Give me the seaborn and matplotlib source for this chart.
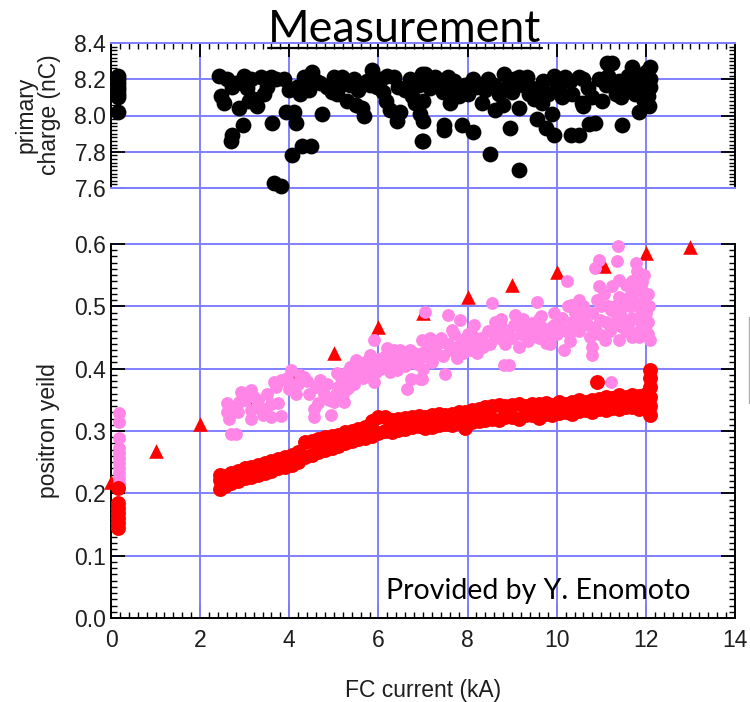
import numpy as np
import matplotlib
matplotlib.use("Agg")
import matplotlib.pyplot as plt
import seaborn as sns
from matplotlib.ticker import FixedLocator, FormatStrFormatter
from matplotlib.lines import Line2D

sns.set_style("white")
plt.rcParams["font.family"] = ["Liberation Sans", "DejaVu Sans"]

# ---------------- data ----------------
x_ticks = [0, 2, 4, 6, 8, 10, 12, 14]
yield_ticks = [0.0, 0.1, 0.2, 0.3, 0.4, 0.5, 0.6]
charge_ticks = [7.6, 7.8, 8.0, 8.2, 8.4]

# primary charge (nC) vs FC current (kA)
charge_x = [0.15, 0.15, 0.15, 0.15, 0.15, 0.15, 0.15, 0.15,
            2.43, 2.46, 2.54, 2.72, 2.87, 2.99, 2.97, 2.72, 2.69, 3.21, 3.28, 3.36,
            3.43, 3.58, 3.62, 3.66, 3.81, 3.88, 3.92, 4.10, 4.14, 4.07, 4.29, 4.48,
            4.18, 4.33, 4.51, 4.44, 4.74, 4.70, 5.00, 5.07, 5.19, 5.30, 5.37, 5.63,
            5.67, 5.86, 5.75, 5.97, 6.19, 6.34, 6.16, 6.27, 6.42, 6.49, 6.60, 6.83,
            6.94, 6.98, 6.98,
            7.05, 7.01, 7.01, 7.01, 7.27, 7.46, 7.46, 7.57, 7.65, 7.87, 8.13, 8.13,
            8.02, 8.32, 8.51, 8.62, 8.70, 8.81, 8.96, 9.15, 9.15, 9.15, 9.33, 9.37,
            9.56, 9.60, 9.67, 9.75, 9.90, 9.93, 9.93, 10.12, 10.19, 10.49, 10.57, 10.31,
            10.49, 10.72, 10.87, 10.94, 11.02, 11.13, 11.24, 11.32, 11.47, 11.69, 11.77,
            11.84, 12.07, 12.10, 12.10, 11.88,
            2.60, 2.80, 3.05, 3.15, 3.50, 3.70, 4.00, 4.25, 4.60, 4.85, 4.95, 5.15,
            5.45, 5.55, 5.80, 6.05, 6.10, 6.45, 6.70, 6.75, 6.90, 7.15, 7.20, 7.35,
            7.45, 7.70, 7.80, 7.95, 8.20, 8.40, 8.45, 8.60, 8.90, 9.00, 9.05, 9.25,
            9.45, 9.50, 9.70, 9.80, 10.00, 10.05, 10.30, 10.35, 10.60, 10.70, 10.80,
            11.10, 11.15, 11.40, 11.45, 11.55, 11.60, 11.75, 11.90, 11.95, 12.00,
            12.05, 12.10, 3.10, 5.50, 7.60, 8.80, 10.60]
charge_y = [8.22, 8.20, 8.18, 8.16, 8.14, 8.12, 8.10, 8.02,
            8.22, 8.11, 8.07, 8.16, 8.04, 8.22, 7.945, 7.89, 7.86, 8.09, 8.05, 8.21,
            8.12, 8.21, 7.96, 7.63, 7.61, 8.20, 8.02, 8.02, 7.96, 7.78, 7.83, 7.83,
            8.16, 8.21, 8.24, 8.14, 8.01, 8.18, 8.21, 8.12, 8.21, 8.08, 8.17, 8.04,
            8.00, 8.25, 8.19, 8.16, 8.22, 8.21, 8.08, 8.03, 7.97, 8.02, 8.14, 8.07,
            8.01, 7.86, 8.23,
            8.23, 8.08, 7.97, 7.86, 8.21, 7.945, 7.92, 8.21, 8.14, 7.945, 7.91, 8.20,
            8.12, 8.07, 7.79, 8.03, 8.12, 8.23, 7.93, 7.70, 8.04, 8.21, 8.21, 8.12,
            7.98, 8.12, 8.07, 7.93, 8.01, 7.89, 8.22, 8.10, 8.21, 8.21, 8.07, 7.89,
            7.89, 7.955, 7.96, 8.20, 8.08, 8.29, 8.29, 8.12, 7.945, 8.27, 8.18,
            8.02, 8.05, 8.27, 8.16, 8.22,
            8.20, 8.18, 8.15, 8.20, 8.16, 8.20, 8.14, 8.12, 8.19, 8.16, 8.13, 8.17,
            8.20, 8.14, 8.17, 8.20, 8.13, 8.16, 8.20, 8.11, 8.17, 8.15, 8.20, 8.18,
            8.13, 8.19, 8.11, 8.17, 8.16, 8.14, 8.20, 8.17, 8.17, 8.13, 8.20, 8.17,
            8.15, 8.09, 8.19, 8.12, 8.17, 8.14, 8.19, 8.12, 8.20, 8.15, 8.10,
            8.17, 8.22, 8.19, 8.10, 8.14, 8.22, 8.12, 8.16, 8.08, 8.24,
            8.11, 8.20, 8.08, 8.06, 8.07, 8.06, 8.05]

# simulated positron yield (triangles)
sim_x = [0.0, 1.0, 2.0, 3.0, 4.0, 5.0, 6.0, 7.0, 8.0, 9.0, 10.0, 11.05, 12.0, 13.0]
sim_y = [0.218, 0.268, 0.311, 0.355, 0.393, 0.425, 0.467, 0.489, 0.515, 0.534,
         0.555, 0.565, 0.586, 0.595]

# measured yield, series 1 (pink)
pink_x = [0.18, 0.18, 0.18, 0.18, 0.18, 0.18, 0.18, 0.18, 0.18, 0.18, 0.18, 0.18,
          2.69, 2.80, 2.61, 2.65, 2.72, 2.91, 2.87, 3.13, 3.13, 3.13, 3.28, 3.40,
          3.58, 3.58, 3.81, 3.66, 3.81, 3.99, 4.03, 4.14, 4.33, 4.55, 4.55, 4.70,
          4.78, 4.93, 5.00, 5.07, 5.22, 5.30, 5.37, 5.49, 5.37, 5.60, 5.82, 5.90,
          5.90, 6.04, 6.19, 6.27, 6.42, 6.49, 6.64, 6.72, 6.79, 6.87, 6.94,
          7.05, 6.97, 7.12, 6.97, 6.97, 7.50, 7.57, 7.65, 7.76, 7.84, 7.35, 7.87,
          8.10, 8.21, 8.55, 8.62, 8.77, 8.81, 8.92, 9.07, 9.15, 9.30, 9.45, 9.56,
          9.60, 9.75, 9.90, 10.12, 10.16, 10.23, 10.31, 10.42, 10.49, 10.64, 10.75,
          10.79, 10.87, 10.94, 10.94, 10.98, 11.09, 11.21, 11.21, 11.24, 11.36,
          11.38, 11.39, 11.47, 11.58, 11.69, 11.77, 11.81, 11.81, 11.84, 11.84,
          11.92, 11.96, 11.92, 12.10, 11.69, 11.39, 10.79,
          11.50, 11.60, 11.70, 11.80, 11.90, 12.00, 12.05, 12.00, 11.95, 11.85,
          11.65, 11.55, 11.45, 11.30, 11.10, 11.00, 10.85, 10.70, 10.55, 10.40,
          10.20, 10.00, 9.85, 9.70, 9.50, 9.35, 9.20, 9.00, 8.85, 8.70, 8.50,
          8.35, 8.20, 8.05, 7.90, 7.75, 7.60, 7.45, 7.30, 7.20, 7.05, 6.90, 6.75,
          6.60, 6.45, 6.30, 6.10, 5.95, 5.80, 5.65, 5.50, 5.35, 5.20, 5.10, 4.90,
          4.60, 4.40, 4.20, 3.95, 3.70, 3.45, 3.30, 3.00, 2.85, 2.60,
          12.08, 12.05, 11.98, 11.75, 11.62, 11.35, 11.20, 10.95, 10.60, 10.30,
          9.95, 9.60, 9.10, 8.60, 8.00,
          3.20, 3.50, 3.75, 4.05, 4.25, 4.45, 4.65, 4.85, 5.05, 5.15, 5.30, 5.45,
          5.55, 5.70, 5.75, 6.00, 6.15, 6.25, 6.35, 6.55, 6.70, 6.85, 7.00, 7.15,
          7.25, 7.40, 7.55, 7.70, 7.85, 8.00, 8.15, 8.30, 8.45, 8.60, 8.75, 8.90,
          9.05, 9.25, 9.40, 9.55, 9.65, 9.80, 9.95, 10.10, 10.25, 10.35, 10.50,
          10.60, 10.80, 10.90, 11.05, 11.15, 11.30, 11.40, 11.55, 11.70, 11.85,
          11.95, 12.05]
pink_y = [0.329, 0.315, 0.289, 0.273, 0.265, 0.257, 0.249, 0.241, 0.233, 0.225, 0.217, 0.212,
          0.295, 0.295, 0.331, 0.320, 0.339, 0.363, 0.347, 0.366, 0.334, 0.320, 0.339, 0.326,
          0.344, 0.323, 0.324, 0.379, 0.382, 0.368, 0.398, 0.360, 0.387, 0.336, 0.323, 0.382,
          0.360, 0.326, 0.347, 0.393, 0.347, 0.368, 0.403, 0.414, 0.382, 0.395, 0.422, 0.379,
          0.446, 0.400, 0.433, 0.411, 0.398, 0.430, 0.368, 0.384, 0.425, 0.408, 0.384,
          0.491, 0.446, 0.435, 0.425, 0.384, 0.392, 0.486, 0.462, 0.417, 0.478, 0.441, 0.446,
          0.454, 0.425, 0.505, 0.475, 0.465, 0.406, 0.406, 0.486, 0.435, 0.462, 0.473, 0.507,
          0.449, 0.441, 0.467, 0.481, 0.430, 0.540, 0.502, 0.462, 0.510, 0.486, 0.451,
          0.422, 0.561, 0.574, 0.532, 0.478, 0.446, 0.379, 0.494, 0.532, 0.572,
          0.597, 0.542, 0.467, 0.510, 0.481, 0.569, 0.556, 0.526, 0.499, 0.451,
          0.539, 0.510, 0.473, 0.446, 0.451, 0.446, 0.435,
          0.500, 0.470, 0.520, 0.480, 0.530, 0.490, 0.520, 0.460, 0.550, 0.460,
          0.500, 0.535, 0.485, 0.500, 0.475, 0.500, 0.465, 0.470, 0.480, 0.490,
          0.460, 0.455, 0.440, 0.465, 0.455, 0.445, 0.455, 0.450, 0.440, 0.450, 0.440,
          0.435, 0.440, 0.430, 0.425, 0.435, 0.430, 0.420, 0.425, 0.410, 0.420, 0.415, 0.410,
          0.405, 0.415, 0.420, 0.405, 0.395, 0.405, 0.385, 0.390, 0.370, 0.360, 0.370, 0.350,
          0.370, 0.380, 0.375, 0.385, 0.370, 0.335, 0.350, 0.350, 0.330, 0.345,
          0.500, 0.475, 0.520, 0.455, 0.515, 0.485, 0.460, 0.455, 0.500, 0.445,
          0.470, 0.480, 0.470, 0.455, 0.440,
          0.355, 0.360, 0.345, 0.375, 0.390, 0.360, 0.345, 0.375, 0.360, 0.385, 0.395, 0.375,
          0.405, 0.410, 0.390, 0.415, 0.420, 0.395, 0.430, 0.420, 0.430, 0.420, 0.400, 0.450,
          0.440, 0.450, 0.440, 0.455, 0.440, 0.455, 0.470, 0.450, 0.460, 0.455, 0.480, 0.460,
          0.470, 0.480, 0.460, 0.475, 0.485, 0.455, 0.490, 0.465, 0.500, 0.475, 0.460,
          0.500, 0.490, 0.510, 0.520, 0.500, 0.470, 0.515, 0.460, 0.540, 0.505,
          0.470, 0.455]

# measured yield, series 2 (red)
red_x = [0.15, 0.15, 0.15, 0.15, 0.15, 0.15, 0.15,
         2.45, 2.45, 2.45, 2.55, 2.55, 2.70, 2.70, 2.85, 2.85, 3.00, 3.00, 3.15, 3.15,
         3.30, 3.30, 3.45, 3.45, 3.60, 3.60, 3.75, 3.75, 3.90, 3.90, 4.05, 4.05,
         4.20, 4.20, 4.35, 4.35, 4.50, 4.50, 4.65, 4.65, 4.80, 4.80, 4.95, 4.95,
         5.10, 5.10, 5.25, 5.25, 5.40, 5.40, 5.55, 5.55, 5.70, 5.70, 5.85, 5.85,
         6.00, 6.00, 6.15, 6.15, 6.30, 6.30, 6.45, 6.45, 6.60, 6.60, 6.75, 6.75,
         6.90, 6.90, 7.05, 7.05, 7.20, 7.20, 7.35, 7.35, 7.50, 7.50, 7.65, 7.65,
         7.80, 7.80, 7.95, 7.95, 8.10, 8.10, 8.25, 8.25, 8.40, 8.40, 8.55, 8.55,
         8.70, 8.70, 8.85, 8.85, 9.00, 9.00, 9.15, 9.15, 9.30, 9.30, 9.45, 9.45,
         9.60, 9.60, 9.75, 9.75, 9.90, 9.90, 10.05, 10.05, 10.20, 10.20, 10.35, 10.35,
         10.50, 10.50, 10.65, 10.65, 10.80, 10.80, 10.95, 10.95, 11.10, 11.10,
         11.25, 11.25, 11.40, 11.40, 11.55, 11.55, 11.70, 11.70, 11.85, 11.85,
         12.00, 12.00, 12.10, 12.10, 12.10, 12.10, 12.10, 12.10, 10.90]
red_y = [0.144, 0.152, 0.160, 0.168, 0.176, 0.184, 0.208,
         0.207, 0.222, 0.230, 0.212, 0.228, 0.216, 0.232, 0.220, 0.236, 0.224, 0.240,
         0.226, 0.243, 0.229, 0.246, 0.232, 0.249, 0.236, 0.252, 0.240, 0.255,
         0.243, 0.258, 0.246, 0.262, 0.250, 0.266, 0.258, 0.283, 0.262, 0.284,
         0.266, 0.287, 0.270, 0.290, 0.273, 0.292, 0.276, 0.294, 0.280, 0.298,
         0.284, 0.300, 0.287, 0.303, 0.289, 0.307, 0.292, 0.316, 0.296, 0.322,
         0.300, 0.323, 0.298, 0.318, 0.302, 0.320, 0.304, 0.321, 0.306, 0.323,
         0.308, 0.324, 0.305, 0.322, 0.307, 0.326, 0.309, 0.327, 0.311, 0.326,
         0.309, 0.328, 0.313, 0.330, 0.305, 0.331, 0.314, 0.333, 0.316, 0.335,
         0.318, 0.338, 0.320, 0.340, 0.317, 0.342, 0.322, 0.340, 0.323, 0.341,
         0.320, 0.343, 0.325, 0.340, 0.326, 0.343, 0.321, 0.344, 0.327, 0.345,
         0.325, 0.342, 0.329, 0.346, 0.330, 0.343, 0.328, 0.347, 0.332, 0.349,
         0.333, 0.346, 0.330, 0.350, 0.335, 0.352, 0.334, 0.355, 0.337, 0.353,
         0.336, 0.357, 0.339, 0.354, 0.338, 0.358, 0.336, 0.356, 0.340, 0.360,
         0.325, 0.340, 0.355, 0.370, 0.385, 0.398, 0.379]

# ---------------- figure ----------------
W, H = 750, 702
GRID = "#8080ff"
fig = plt.figure(figsize=(W / 100, H / 100), dpi=100)


def rect(l, t, r, b):
    return [l / W, 1 - b / H, (r - l) / W, (b - t) / H]


ax = fig.add_axes(rect(111, 43, 735, 618))
ax2 = fig.add_axes(rect(111, 43, 735, 188))
ax2.patch.set_alpha(0)

# bottom panel: positron yield
sns.scatterplot(x=sim_x, y=sim_y, ax=ax, marker="^", color="#ff0000", s=110,
                linewidth=0, clip_on=False, zorder=3)
sns.scatterplot(x=pink_x, y=pink_y, ax=ax, marker="o", color="#ff85e6", s=85,
                linewidth=0, clip_on=False, zorder=4)
sns.scatterplot(x=red_x, y=red_y, ax=ax, marker="o", color="#ff0000", s=115,
                linewidth=0, clip_on=False, zorder=5)

# top panel: primary charge
sns.scatterplot(x=charge_x, y=charge_y, ax=ax2, marker="o", color="black", s=130,
                linewidth=0, clip_on=False, zorder=4)

top_val = yield_ticks[-1] * (618 - 43) / (618 - 244)
ax.set_xlim(x_ticks[0], x_ticks[-1])
ax.set_ylim(yield_ticks[0], top_val)
ax2.set_xlim(x_ticks[0], x_ticks[-1])
ax2.set_ylim(charge_ticks[0], charge_ticks[-1])

for a in (ax, ax2):
    a.set_xlabel("")
    a.set_ylabel("")
    a.set_axisbelow(True)

xminor = np.round(np.arange(x_ticks[0], x_ticks[-1] + 0.001, 0.2), 2)
ax.xaxis.set_major_locator(FixedLocator(x_ticks))
ax.xaxis.set_minor_locator(FixedLocator(xminor))
ax.yaxis.set_major_locator(FixedLocator(yield_ticks))
ax.yaxis.set_minor_locator(FixedLocator(np.round(np.arange(0, 0.6001, 0.01), 3)))
ax.yaxis.set_major_formatter(FormatStrFormatter("%.1f"))

ax2.xaxis.set_major_locator(FixedLocator(x_ticks))
ax2.xaxis.set_minor_locator(FixedLocator(xminor))
ax2.yaxis.set_major_locator(FixedLocator(charge_ticks))
ax2.yaxis.set_minor_locator(FixedLocator(np.round(np.arange(7.6, 8.4001, 0.02), 3)))
ax2.yaxis.set_major_formatter(FormatStrFormatter("%.1f"))

TICKC = "#1e1e1e"
for a in (ax, ax2):
    a.tick_params(which="both", direction="in", color="black", labelcolor=TICKC)
    a.tick_params(which="major", length=10, width=1.3, labelsize=16.5)
    a.tick_params(which="minor", length=4.5, width=1.0)
    for s in a.spines.values():
        s.set_color("black")
        s.set_linewidth(1.4)

ax.tick_params(which="both", left=True, right=True, bottom=True, top=False,
               labelleft=True, labelbottom=True)
ax.tick_params(axis="y", which="major", pad=3.5)
ax.tick_params(axis="x", which="major", pad=8)
ax.spines["top"].set_visible(False)
ax.spines["left"].set_bounds(yield_ticks[0], yield_ticks[-1])
ax.spines["right"].set_bounds(yield_ticks[0], yield_ticks[-1])
ax.grid(False)
ax.grid(True, axis="y", which="major", color=GRID, linewidth=1.4)
for xv in x_ticks[1:-1]:
    ax.axvline(xv, color=GRID, linewidth=1.4, zorder=0.6)

ax2.tick_params(which="both", left=True, right=True, top=True, bottom=False,
                labelleft=True, labelbottom=False, labeltop=False)
ax2.tick_params(axis="y", which="major", pad=3.5)
ax2.spines["top"].set_color(GRID)
ax2.spines["bottom"].set_color(GRID)
ax2.grid(False)
ax2.grid(True, axis="y", which="major", color=GRID, linewidth=1.4)

# axis labels
fig.text(423 / W, 1 - 690 / H, "FC current (kA)", ha="center", va="center",
         fontsize=16.5, color=TICKC)
fig.text(49 / W, 1 - 431 / H, "positron yeild", ha="center", va="center",
         rotation=90, fontsize=16.5, color=TICKC)
fig.text(38 / W, 1 - 115 / H, "primary\ncharge (nC)", ha="center", va="center",
         rotation=90, fontsize=16.5, color=TICKC, multialignment="center",
         linespacing=1.0)

# title and credit (slide text)
title = fig.text(405 / W, 1 - 42 / H, "Measurement", ha="center", va="baseline",
                 fontsize=32, family=["Lato", "DejaVu Sans"], color="black")
credit = fig.text(386 / W, 1 - 599 / H, "Provided by Y. Enomoto", ha="left",
                  va="baseline", fontsize=20, family=["Lato", "DejaVu Sans"],
                  color="black")
fig.canvas.draw()
r = fig.canvas.get_renderer()
for t, target in ((title, 274), (credit, 304)):
    w = t.get_window_extent(r).width
    t.set_fontsize(t.get_fontsize() * target / w)
fig.canvas.draw()
bb = title.get_window_extent(r)
fig.add_artist(Line2D([bb.x0 / W, bb.x1 / W], [1 - 47.5 / H] * 2, color="black",
                      linewidth=1.6))
fig.add_artist(Line2D([749 / W] * 2, [1 - 317 / H, 1 - 403 / H], color="#b0b0b0",
                      linewidth=1.0))

fig.savefig("out.png", dpi=100)
